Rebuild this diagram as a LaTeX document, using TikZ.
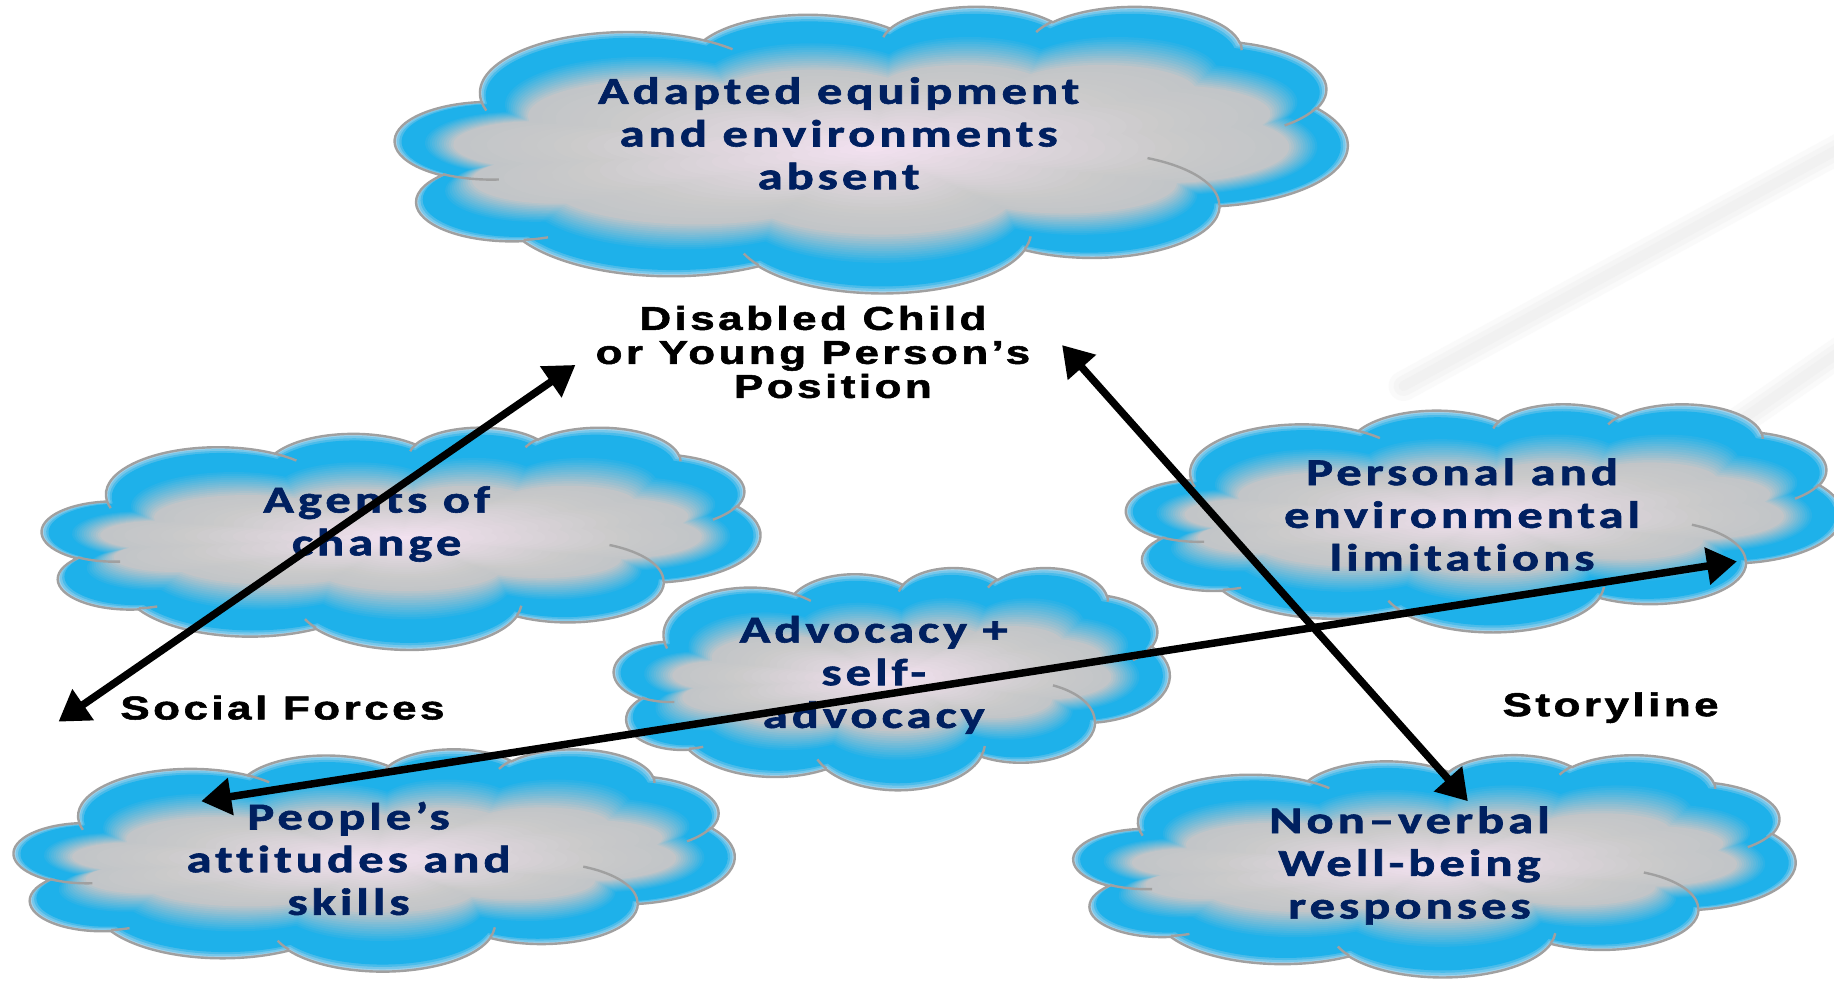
\documentclass[tikz,border=0pt]{standalone}
\usepackage{fontspec}
\usetikzlibrary{arrows.meta}
\newfontfamily\cloudfont[LetterSpace=8, Ligatures=NoCommon, BoldFeatures={FakeBold=1.5}]{Carlito}
\newfontfamily\labelfont[LetterSpace=8, BoldFeatures={FakeBold=1.5}]{Liberation Sans}

\definecolor{txtnavy}{HTML}{002060}
\definecolor{cldrim}{HTML}{A0A0A0}
\definecolor{cldA}{HTML}{A4D2EA}
\definecolor{cldB}{HTML}{1EB1EA}
\definecolor{cldC}{HTML}{C2C5C8}
\definecolor{cldD}{HTML}{CACACA}
\definecolor{cldE}{HTML}{F4E2F1}
\definecolor{streak}{HTML}{E8E8E8}

% elliptical arc given by its geometric start angle and sweep (degrees)
\tikzset{
  cldarc/.style n args={4}{
    /utils/exec={%
      \pgfmathsetmacro\cldT{atan2(#1*sin(#3),#2*cos(#3))}%
      \pgfmathsetmacro\cldU{atan2(#1*sin(#3+#4),#2*cos(#3+#4))}%
      \pgfmathsetmacro\cldD{mod(\cldU-\cldT+720,360)}%
      \global\let\cldT\cldT \global\let\cldD\cldD},
    insert path={arc[start angle=\cldT, delta angle=\cldD, x radius=#1, y radius=#2]}
  },
  % cloud outline in a 432 x 432 box, y pointing down
  cloudpath/.style={insert path={
    (39.00,143.70)
    [cldarc={67.53}{91.90}{-190.4875}{123.7805}]
    [cldarc={53.33}{72.67}{-144.1024}{89.9452}]
    [cldarc={43.65}{59.45}{-145.8079}{99.7230}]
    [cldarc={48.57}{65.95}{-130.9861}{117.2417}]
    [cldarc={53.33}{72.73}{-78.7089}{109.0269}]
    [cldarc={67.75}{92.20}{-46.2673}{130.2690}]
    [cldarc={57.85}{78.67}{0.6250}{114.0333}]
    [cldarc={67.52}{92.15}{22.4516}{115.1726}]
    [cldarc={77.20}{105.43}{66.2426}{75.7110}]
    [cldarc={43.60}{59.18}{-274.9421}{146.7356}]
    [cldarc={43.45}{59.45}{-246.8285}{152.5189}]
    -- cycle}},
  % the short inner arcs where the puffs meet
  cloudcreases/.style={insert path={
    (46.93,261.77) [cldarc={43.45}{59.45}{86.7420}{26.4295}]
    (69.28,348.99) [cldarc={43.60}{59.18}{73.6105}{11.4475}]
    (164.78,390.90) [cldarc={67.52}{92.15}{137.6242}{14.0811}]
    (288.27,347.51) [cldarc={67.52}{92.15}{6.4533}{15.9984}]
    (341.29,229.54) [cldarc={57.85}{78.67}{-70.2924}{70.9174}]
    (417.98,153.54) [cldarc={53.33}{72.73}{30.3180}{27.7515}]
    (383.24,54.26) [cldarc={48.57}{65.95}{-13.7443}{14.8589}]
    (290.78,39.52) [cldarc={48.57}{65.95}{-149.1815}{18.1954}]
    (221.41,47.20) [cldarc={43.65}{59.45}{-163.4943}{17.6864}]
    (140.00,51.92) [cldarc={67.53}{91.90}{-66.7070}{12.3194}]
    (41.27,157.89) [cldarc={67.53}{91.90}{157.6544}{11.8582}]
  }},
  cldline/.style={draw=cldrim, line width=2.4pt},
  cloudtext/.style={align=center, text=txtnavy, inner sep=0pt, xscale=1.33,
    font=\cloudfont\bfseries\fontsize{38}{42.7}\selectfont},
  plaintext/.style={align=center, text=black, inner sep=0pt, xscale=1.33,
    font=\labelfont\bfseries\fontsize{33}{34}\selectfont},
  twohead/.style={line width=7.5pt,
    {Triangle[length=30pt,width=36pt]}-{Triangle[length=30pt,width=36pt]}},
  streakline/.style={draw=streak, line cap=round},
}

% cloud with top-left corner (#1,#2), width #3, height #4:
% a blue rim that follows the outline, fading to a grey body with a pale centre
\newcommand\puffcloud[4]{%
  \begin{scope}[shift={(#1,#2)}, x=1pt, y=1pt,
      xscale={#3*1.1696/432}, yscale={-#4*1.1696/432}]
    \foreach \dd in {0,2,...,50}{%
      \ifdim\dd pt<6pt
        \pgfmathsetmacro\cldp{100-100*\dd/6}\colorlet{cldcur}{cldA!\cldp!cldB}%
      \else\ifdim\dd pt<24pt
        \colorlet{cldcur}{cldB}%
      \else
        \pgfmathsetmacro\cldp{100-100*(\dd-24)/26}\colorlet{cldcur}{cldB!\cldp!cldC}%
      \fi\fi
      \pgfmathsetmacro\cldsx{1-2*\dd/#3}%
      \pgfmathsetmacro\cldsy{1-2*\dd/#4}%
      \fill[cldcur, shift={(216,216)}, xscale=\cldsx, yscale=\cldsy,
        shift={(-216,-216)}] [cloudpath];
    }
    \pgfmathsetmacro\cldsxo{1-100/#3}%
    \pgfmathsetmacro\cldsyo{1-100/#4}%
    \foreach \uu in {0.04,0.08,...,0.97}{%
      \ifdim\uu pt<0.25pt
        \pgfmathsetmacro\cldp{100-100*\uu/0.25}\colorlet{cldcur}{cldC!\cldp!cldD}%
      \else
        \pgfmathsetmacro\cldp{100-100*(\uu-0.25)/0.75}\colorlet{cldcur}{cldD!\cldp!cldE}%
      \fi
      \pgfmathsetmacro\cldsx{\cldsxo*(1-\uu)}%
      \pgfmathsetmacro\cldsy{\cldsyo*(1-\uu)}%
      \fill[cldcur, shift={(216,216)}, xscale=\cldsx, yscale=\cldsy,
        shift={(-216,-216)}] [cloudpath];
    }
    \draw[cldline] [cloudpath];
    \draw[cldline] [cloudcreases];
  \end{scope}}

\begin{document}
\begin{tikzpicture}[x=1.1696pt, y=-1.1696pt]
  \useasboundingbox[fill=white] (0,0) rectangle (1568,839);

  % faint diagonal streaks in the backdrop
  \foreach \w/\o in {30/0.2, 20/0.25, 10/0.3}{
    \draw[streakline, line width=\w pt, opacity=\o] (1200,330) -- (1600,112);
    \draw[streakline, line width=\w pt, opacity=\o] (1480,365) -- (1600,282);
  }

  % clouds
  \puffcloud{338}{5}{814}{245}
  \puffcloud{36}{365}{614}{190}
  \puffcloud{963}{345}{612}{195}
  \puffcloud{525}{485}{475}{190}
  \puffcloud{12}{640}{616}{190}
  \puffcloud{918}{645}{617}{190}

  % cloud captions
  \node[cloudtext] (equip) at (717,114) {Adapted equipment\\and environments\\absent};
  \node[cloudtext] (agents) at (322,448) {Agents of\\change};
  \node[cloudtext] (limits) at (1250,440) {Personal and\\environmental\\limitations};
  \node[cloudtext] (advoc) at (747,577) {Advocacy +\\self-\\advocacy};
  \node[cloudtext] (people) at (298,734) {People’s\\attitudes and\\skills};
  \node[cloudtext] (nonverb) at (1205,740) {Non–verbal\\Well-being\\responses};

  % free labels
  \node[plaintext] (position) at (695,301)
    {Disabled Child\\or Young Person’s\hspace*{12pt}\\\hspace*{30pt}Position};
  \node[plaintext] (social) at (241.5,605) {Social Forces};
  \node[plaintext] (story) at (1377,605) {Storyline};

  % arrow ends
  \coordinate (socialtip) at (50,617);
  \coordinate (positiontipL) at (492,312);
  \coordinate (positiontipR) at (908,295);
  \coordinate (responsetip) at (1255,685);
  \coordinate (peopletip) at (172,685);
  \coordinate (limitstip) at (1485,480);

  \draw[twohead] (socialtip) -- (positiontipL);
  \draw[twohead] (positiontipR) -- (responsetip);
  \draw[twohead] (peopletip) -- (limitstip);
\end{tikzpicture}
\end{document}
